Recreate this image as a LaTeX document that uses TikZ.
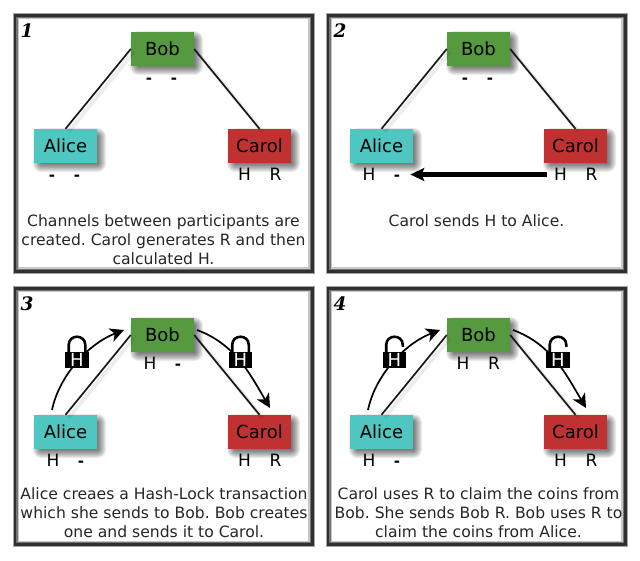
\documentclass[tikz,border=0pt]{standalone}
\usepackage{fontspec}
\setmainfont{DejaVu Sans}
\newfontfamily\numfont{DejaVu Serif}
\usetikzlibrary{arrows.meta}
\tikzset{
  x=1pt,y=-1pt,
  actor/.style={minimum width=63pt,minimum height=34pt,inner sep=0pt,font=\fontsize{18}{20}\selectfont,text=black},
  softbox/.style={fill=black,opacity=.075},
  mark label/.style={font=\fontsize{17}{20}\selectfont,inner sep=0pt,text=black,text height=12.5pt,text depth=0pt},
  caption/.style={anchor=north,align=center,inner sep=0pt,text=black!85,font=\fontsize{15.6}{19}\selectfont\frenchspacing},
  channel/.style={draw=black!90,line width=1.7pt,preaction={draw=black,opacity=.07,line width=4pt,transform canvas={shift={(3pt,-3pt)}}}},
  hop/.style={draw=black,line width=1.7pt,-{Stealth[length=14pt,width=14pt,inset=4pt]}},
  panelnum/.style={inner sep=0pt,font=\fontsize{18.5}{20}\numfont\bfseries\itshape\selectfont,text=black},
}
\definecolor{bobc}{HTML}{559A3E}
\definecolor{alicec}{HTML}{50C6C0}
\definecolor{carolc}{HTML}{C03232}
\definecolor{framec}{HTML}{303030}
\newcommand\softshadow[2]{%
  \foreach \d in {-3,-2,...,5}{
    \fill[softbox,rounded corners=\d+3.5] (#1+4-31.5-\d,#2+4-17-\d) rectangle (#1+4+31.5+\d,#2+4+17+\d);
  }%
}
% id, x, y, number
\newcommand\drawframe[4]{%
  \begin{scope}[shift={(#2,#3)}]
    \draw[black!22,line width=2pt] (18,18.5) rectangle (309,268.5);
    \draw[black!55,line width=2pt] (16.5,17) rectangle (310.5,270);
    \draw[black!35,line width=1pt] (13,13.5) rectangle (314,273.5);
    \draw[framec,line width=2.6pt] (14.8,15.3) rectangle (312.2,271.7);
    \node[panelnum] (#1num) at (27,31) {#4};
  \end{scope}
}
% id, x off, y off, bobL x, bobL, bobR x, bobR
\newcommand\drawcast[7]{%
  \begin{scope}[shift={(#2,#3)}]
    \softshadow{162.5}{49}
    \softshadow{65.5}{146}
    \softshadow{259.5}{146}
    \node[actor,fill=bobc] (#1b) at (162.5,49) {Bob};
    \node[actor,fill=alicec] (#1a) at (65.5,146) {Alice};
    \node[actor,fill=carolc] (#1c) at (259.5,146) {\raisebox{-.5pt}{Carol}};
    \draw[channel] (#1b.west) -- (#1a.north);
    \draw[channel] (#1b.east) -- (#1c.north);
    \node[mark label] (#1bl) at (#4,77) {#5};
    \node[mark label] (#1br) at (#6,77) {#7};
  \end{scope}
}
% id, x, y, left x, left, right x, right
\newcommand\alicecarol[7]{%
  \begin{scope}[shift={(#2,#3)}]
    \node[mark label] (#1al) at (#4,174.5) {#5};
    \node[mark label] (#1ar) at (#6,174.5) {#7};
    \node[mark label] (#1cl) at (244.5,174.5) {H};
    \node[mark label] (#1cr) at (275.5,174.5) {R};
  \end{scope}
}
\newcommand\panelcaption[4]{%
  \node[caption] (#1cap) at (#2,#3) {#4};
}
\newcommand\locksym[3]{%
  \ifnum#3=0
    \draw[black,line width=2.6pt] (#2-8.3,67) -- (#2-8.3,59) .. controls (#2-8.3,48) and (#2+8.3,48) .. (#2+8.3,59) -- (#2+8.3,67);
  \else
    \draw[black,line width=2.6pt] (#2-8.3,67) -- (#2-8.3,59) .. controls (#2-8.3,48) and (#2+8.3,48) .. (#2+8.3,59) -- (#2+8.3,61);
  \fi
  \node[fill=black,text=white,minimum width=23.5pt,minimum height=16.5pt,inner sep=0pt,font=\fontsize{18}{18}\selectfont] (#1) at (#2,74) {H};
}
% id, x off, y off, left lock x, right lock x, open?(0/1)
\newcommand\hops[6]{%
  \begin{scope}[shift={(#2,#3)}]
    \coordinate (#1s1) at (52,124);
    \coordinate (#1e1) at (124,44);
    \coordinate (#1s2) at (197,44);
    \coordinate (#1e2) at (270,122);
    \draw[hop] (#1s1) .. controls (59,90) and (88,58) .. (#1e1);
    \draw[hop] (#1s2) .. controls (235,58) and (250,88) .. (#1e2);
    \locksym{#1l}{#4}{#6}
    \locksym{#1r}{#5}{#6}
  \end{scope}
}
\newcommand\dashmark{{\fontsize{15}{20}\selectfont\bfseries -}}
\begin{document}
\begin{tikzpicture}
\useasboundingbox (0,0) rectangle (640,561);
\fill[white] (0,0) rectangle (640,561);
\drawframe{p}{0}{0}{1}
\drawcast{p}{0}{0}{149}{\dashmark}{174}{\dashmark}
\alicecarol{p}{0}{0}{52}{\dashmark}{77}{\dashmark}
\panelcaption{p}{163.5}{214.5}{Channels between participants are\\created. Carol generates R and then\\calculated H.}
\drawframe{q}{313}{0}{2}
\drawcast{q}{316}{0}{149}{\dashmark}{174}{\dashmark}
\alicecarol{q}{316}{0}{53}{H}{81}{\dashmark}
\panelcaption{q}{476.5}{214.5}{Carol sends H to Alice.}
\draw[black,line width=4.2pt,shorten <=7pt,shorten >=10pt,-{Stealth[length=14pt,width=13pt,inset=3pt]}] (qcl.west) -- (qcl.west -| qar.east);
\drawframe{r}{0}{273}{3}
\drawcast{r}{0}{286}{150}{H}{178}{\dashmark}
\alicecarol{r}{0}{286}{53}{H}{81}{\dashmark}
\hops{r}{0}{286}{77}{240.5}{0}
\panelcaption{r}{164}{487.5}{Alice creaes a Hash-Lock transaction\\which she sends to Bob. Bob creates\\one and sends it to Carol.}
\drawframe{s}{313}{273}{4}
\drawcast{s}{316}{286}{147}{H}{178}{R}
\alicecarol{s}{316}{286}{53}{H}{81}{\dashmark}
\hops{s}{316}{286}{78.5}{242}{1}
\panelcaption{s}{478.5}{487.5}{Carol uses R to claim the coins from\\Bob. She sends Bob R. Bob uses R to\\claim the coins from Alice.}
\end{tikzpicture}
\end{document}
